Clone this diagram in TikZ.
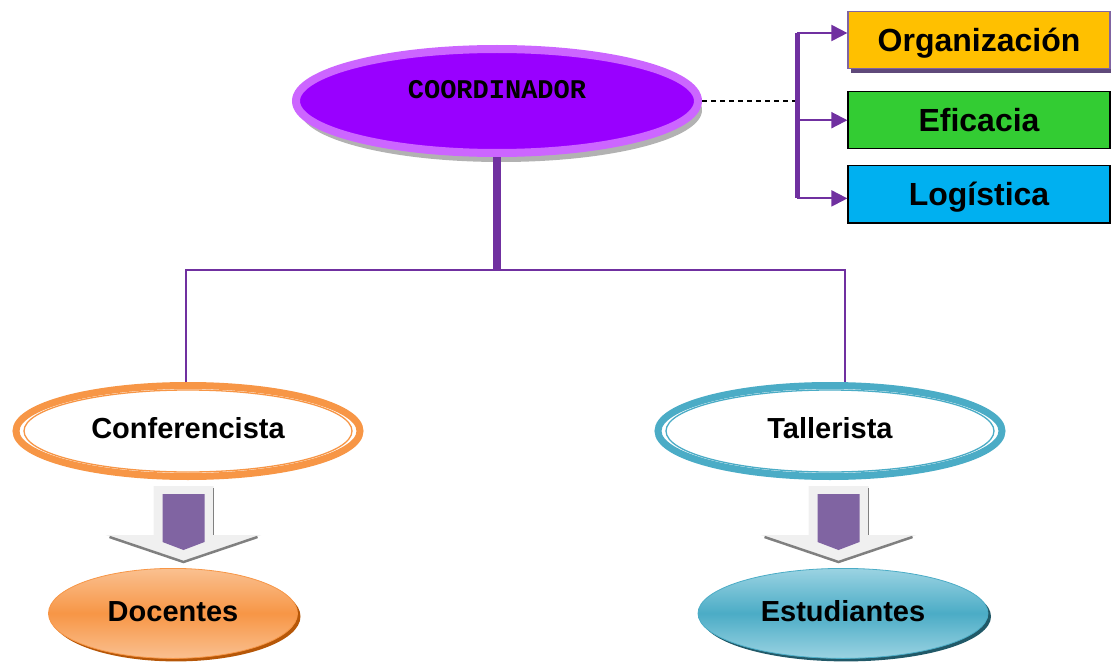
\documentclass[tikz,border=0pt]{standalone}
\usepackage{fontspec}
\setmainfont{Liberation Sans}
\setmonofont{Liberation Mono}
\usetikzlibrary{arrows.meta, positioning, shapes.geometric, shadows, calc}

\definecolor{ringlilac}{HTML}{CC66FF}
\definecolor{coordviolet}{HTML}{9900FF}
\definecolor{linepurple}{HTML}{7030A0}
\definecolor{boxgold}{HTML}{FFC000}
\definecolor{boxframe}{HTML}{8064A2}
\definecolor{boxshadow}{HTML}{5F497A}
\definecolor{boxgreen}{HTML}{33CC33}
\definecolor{boxblue}{HTML}{00B0F0}
\definecolor{ringorange}{HTML}{F79646}
\definecolor{lightorange}{HTML}{FAC090}
\definecolor{darkorange}{HTML}{B65708}
\definecolor{ringteal}{HTML}{4BACC6}
\definecolor{lightteal}{HTML}{9BD3E2}
\definecolor{darkteal}{HTML}{215968}
\definecolor{arrowpurple}{HTML}{8064A2}
\definecolor{arrowgray}{HTML}{F0F0F0}

\begin{document}
\begin{tikzpicture}[x=1pt, y=-1pt,
    aspect/.style={draw, line width=1.2pt, minimum width=262pt, minimum height=57pt, font=\fontsize{32}{38}\selectfont\bfseries, text height=23pt, text depth=0pt},
    ring/.style={ellipse, line width=7pt, fill=white, minimum width=344pt, minimum height=91pt, font=\fontsize{29}{35}\selectfont\bfseries, text depth=6pt},
    group/.style={ellipse, draw, line width=0.8pt, minimum height=90pt, font=\fontsize{29}{35}\selectfont\bfseries, text depth=4pt},
    feed/.style={line width=2pt, linepurple, -{Triangle[length=16pt, width=16pt]}}]

    \useasboundingbox (0,0) rectangle (1111,666);

    % coordinator and its three aspects
    \node[ellipse, draw=ringlilac, fill=coordviolet, line width=8pt, minimum width=402pt, minimum height=104pt,
        drop shadow={shadow xshift=4pt, shadow yshift=-9pt, fill=gray!60, opacity=1},
        font=\fontsize{27}{32}\selectfont\ttfamily\bfseries, text depth=24pt] (coord) at (497,101) {COORDINADOR};

    \node[aspect, draw=boxframe, fill=boxgold, drop shadow={shadow xshift=3pt, shadow yshift=-5pt, fill=boxshadow, opacity=1}] (org) at (979,40) {Organización};
    \node[aspect, fill=boxgreen, below=22pt of org] (efic) {Eficacia};
    \node[aspect, fill=boxblue, below=16pt of efic] (logis) {Logística};

    \coordinate (brace) at (797,0);
    \coordinate (orgin) at ([yshift=7pt]org.west);
    \draw[dashed, line width=1.5pt, dash pattern=on 5pt off 4pt] (coord.east) -- (coord.east -| brace);
    \draw[linepurple, line width=5pt] (orgin -| brace) -- ([yshift=-4pt]logis.west -| brace);
    \draw[feed] (orgin -| brace) -- (orgin);
    \draw[feed] (efic.west -| brace) -- (efic.west);
    \draw[feed] ([yshift=-4pt]logis.west -| brace) -- ([yshift=-4pt]logis.west);

    % speakers
    \node[ring, draw=ringorange] (conf) at (188,431) {Conferencista};
    \node[ring, draw=ringteal] (tall) at (830,431) {Tallerista};
    \draw[ringorange, line width=1.3pt] (conf.center) ellipse (164 and 41);
    \draw[ringteal, line width=1.3pt] (tall.center) ellipse (164 and 41);

    \coordinate (hub) at (497,270);
    \draw[linepurple, line width=8pt] (coord.south) -- (hub);
    \draw[linepurple, line width=1.5pt] ([xshift=-2pt]conf.north) |- (hub) -| ([xshift=15pt]tall.north);

    % audiences
    \node[group, draw=ringorange, top color=lightorange, bottom color=lightorange, middle color=ringorange, minimum width=249pt,
        drop shadow={shadow xshift=3pt, shadow yshift=-3pt, fill=darkorange, opacity=1},
        below=88pt of conf, xshift=-15pt] (doc) {Docentes};
    \node[group, draw=ringteal, top color=lightteal, bottom color=lightteal, middle color=ringteal, minimum width=290pt,
        drop shadow={shadow xshift=3pt, shadow yshift=-3pt, fill=darkteal, opacity=1},
        below=88pt of tall, xshift=13pt] (est) {Estudiantes};

    \begin{scope}[shift={($(conf.south)!.5!(doc.north)$)}, xshift=3pt]
        \fill[arrowgray] (-30,-38) -- (30,-38) -- (30,11) -- (78,11) -- (0,39) -- (-78,11) -- (-30,11) -- cycle;
        \draw[gray, line width=0.8pt] (30,-36) -- (30,11);
        \draw[gray, line width=2.5pt] (-74,13) -- (0,38) -- (74,13);
        \fill[arrowpurple] (-21,-30) -- (21,-30) -- (21,18) -- (0,26) -- (-21,18) -- cycle;
    \end{scope}
    \begin{scope}[shift={($(tall.south)!.5!(est.north)$)}, xshift=2pt]
        \fill[arrowgray] (-30,-38) -- (30,-38) -- (30,11) -- (78,11) -- (0,39) -- (-78,11) -- (-30,11) -- cycle;
        \draw[gray, line width=0.8pt] (30,-36) -- (30,11);
        \draw[gray, line width=2.5pt] (-74,13) -- (0,38) -- (74,13);
        \fill[arrowpurple] (-21,-30) -- (21,-30) -- (21,18) -- (0,26) -- (-21,18) -- cycle;
    \end{scope}
\end{tikzpicture}
\end{document}
